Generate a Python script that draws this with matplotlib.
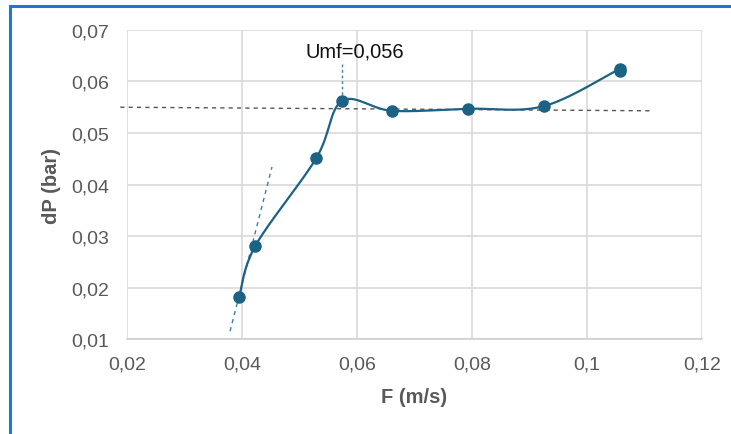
import numpy as np
import matplotlib.pyplot as plt
from matplotlib.lines import Line2D

# measured points
vel = [0.0395, 0.0423, 0.0529, 0.0574, 0.0661, 0.0793, 0.0925, 0.1057, 0.1057]
dp = [0.0182, 0.0281, 0.0451, 0.0562, 0.0543, 0.0547, 0.0552, 0.0624, 0.0620]

# hand-drawn helper lines
trend_x = [0.0188, 0.1115]
trend_y = [0.0550, 0.0543]
steep_x = [0.0379, 0.0452]
steep_y = [0.01155, 0.0434]
umf_x = [0.0574, 0.0574]
umf_y = [0.0634, 0.0572]

xlim = (0.02, 0.12)
ylim = (0.01, 0.07)


def smooth(xs, ys, n=30):
    # excel-like smoothed line (catmull-rom bezier), done in scaled units
    sx = (xlim[1] - xlim[0]) * 1.0
    sy = (ylim[1] - ylim[0]) * 0.54
    p = np.column_stack([np.array(xs) / sx, np.array(ys) / sy])
    out = []
    for i in range(len(p) - 1):
        p0 = p[i - 1] if i > 0 else p[i]
        p3 = p[i + 2] if i + 2 < len(p) else p[i + 1]
        a, d = p[i], p[i + 1]
        b = a + (d - p0) / 6
        c = d - (p3 - a) / 6
        t = np.linspace(0, 1, n)[:, None]
        seg = (1 - t) ** 3 * a + 3 * (1 - t) ** 2 * t * b + 3 * (1 - t) * t ** 2 * c + t ** 3 * d
        out.append(seg)
    out = np.vstack(out)
    return out[:, 0] * sx, out[:, 1] * sy


plt.rcParams['font.family'] = ['Liberation Sans', 'DejaVu Sans']
fig = plt.figure(figsize=(7.31, 4.35), dpi=100)
ax = fig.add_axes([0.174, 0.218, 0.786, 0.711])

blue = '#1b6284'
gx, gy = smooth(vel, dp)
ax.plot(gx, gy, color=blue, lw=1.6, zorder=3)
ax.plot(vel, dp, 'o', color=blue, ms=8, zorder=4)

ax.plot(trend_x, trend_y, color='#555555', lw=1, ls=(0, (3, 3)), clip_on=False, zorder=2)
ax.plot(steep_x, steep_y, color='#3c7fa8', lw=1, ls=(0, (3, 3)), clip_on=False, zorder=2)
ax.plot(umf_x, umf_y, color='#3c7fa8', lw=1, ls=(0, (2, 2)), clip_on=False, zorder=2)
ax.text(0.0597, 0.0641, 'Umf=0,056', fontsize=14.5, ha='center', va='bottom', color='#111111')

ax.set_xlim(*xlim)
ax.set_ylim(*ylim)
xt = [0.02, 0.04, 0.06, 0.08, 0.1, 0.12]
yt = [0.01, 0.02, 0.03, 0.04, 0.05, 0.06, 0.07]
ax.set_xticks(xt)
ax.set_yticks(yt)
ax.set_xticklabels([f'{v:g}'.replace('.', ',') for v in xt])
ax.set_yticklabels([f'{v:.2f}'.replace('.', ',') for v in yt])
ax.tick_params(length=0, labelsize=14, labelcolor='#595959')
ax.tick_params(axis='y', pad=13)
ax.tick_params(axis='x', pad=12)
ax.grid(True, color='#d9d9d9', lw=1.2)
ax.set_axisbelow(True)
for s in ['top', 'right', 'left']:
    ax.spines[s].set_visible(False)
ax.spines['bottom'].set_color('#d0d0d0')
ax.spines['bottom'].set_linewidth(1.2)

ax.set_xlabel('F (m/s)', fontsize=14.5, fontweight='bold', color='#595959', labelpad=10)
ax.set_ylabel('dP (bar)', fontsize=14.5, fontweight='bold', color='#595959', labelpad=7)

# blue frame at top and left
fig.add_artist(Line2D([10 / 731, 1], [1 - 7 / 435] * 2, color='#1f78d1', lw=2.2))
fig.add_artist(Line2D([10 / 731] * 2, [0, 1 - 7 / 435], color='#1f78d1', lw=2.2))

fig.savefig('out.png', dpi=100)
